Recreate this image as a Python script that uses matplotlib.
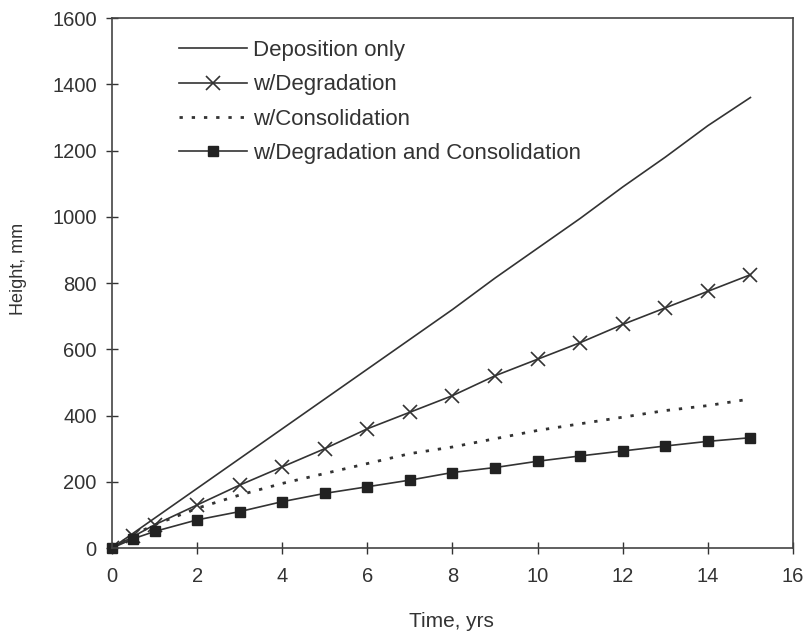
import matplotlib
matplotlib.use('Agg')
import matplotlib.pyplot as plt

plt.rcParams['font.family'] = ['Liberation Sans', 'DejaVu Sans']

# time points, years
t = [0, 0.5, 1, 2, 3, 4, 5, 6, 7, 8, 9, 10, 11, 12, 13, 14, 15]

# heights, mm
deposition = [0, 45, 90, 180, 270, 360, 450, 540, 630, 720, 815, 905, 995, 1090, 1180, 1275, 1360]
degradation = [0, 35, 70, 130, 190, 245, 300, 360, 410, 460, 520, 570, 620, 675, 725, 775, 825]
consolidation = [0, 40, 70, 120, 160, 195, 225, 255, 285, 305, 330, 355, 375, 395, 415, 430, 450]
deg_consol = [0, 28, 50, 85, 110, 140, 165, 185, 205, 228, 243, 262, 278, 293, 308, 322, 333]

ink = '#333333'

fig = plt.figure(figsize=(8.04, 6.34), dpi=100)
ax = fig.add_axes([0.1393, 0.1356, 0.847, 0.836])

ax.plot(t, deposition, '-', color=ink, lw=1.2, label='Deposition only')
ax.plot(t, degradation, '-', color=ink, lw=1.2, marker='x', ms=10, mew=1.2,
        label='w/Degradation')
ax.plot(t, consolidation, color=ink, lw=2, ls=(0, (1.2, 3.2)), label='w/Consolidation')
ax.plot(t, deg_consol, '-', color=ink, lw=1.2, marker='s', ms=7,
        mfc='#222222', mec='#222222', clip_on=False,
        label='w/Degradation and Consolidation')

ax.set_xlim(0, 16)
ax.set_ylim(0, 1600)
ax.set_xticks(range(0, 17, 2))
ax.set_yticks(range(0, 1601, 200))
ax.tick_params(direction='inout', length=8, labelsize=14.5, colors=ink, width=1)
ax.tick_params(axis='x', pad=10)
ax.tick_params(axis='y', pad=7)
for s in ax.spines.values():
    s.set_color('#444444')
    s.set_linewidth(1.2)

ax.set_xlabel('Time, yrs', fontsize=15, color=ink)
ax.set_ylabel('Height, mm', fontsize=13, color=ink)
ax.xaxis.set_label_coords(0.499, -0.121)
ax.yaxis.set_label_coords(-0.125, 0.526)

leg = ax.legend(loc='upper left', bbox_to_anchor=(0.069, 0.996), frameon=False,
                fontsize=16, handlelength=3.05, handletextpad=0.27, labelspacing=0.6)
for txt in leg.get_texts():
    txt.set_color(ink)

fig.savefig('out.png', dpi=100)
